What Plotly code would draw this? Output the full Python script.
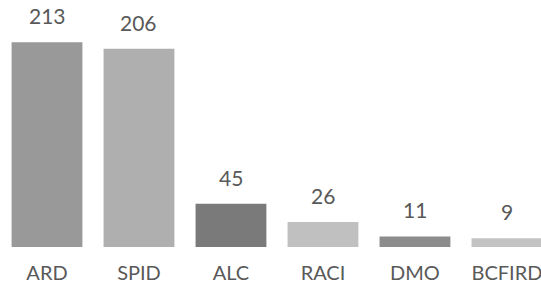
import plotly.graph_objects as go

categories = ["ARD", "SPID", "ALC", "RACI", "DMO", "BCFIRD"]
values = [213, 206, 45, 26, 11, 9]
colors = ["#999999", "#afafaf", "#7a7a7a", "#c0c0c0", "#8c8c8c", "#c3c3c3"]

fig = go.Figure(go.Bar(
    x=categories, y=values, marker=dict(color=colors, line=dict(width=0)),
    width=0.77, hoverinfo="skip",
))

for c, v in zip(categories, values):
    fig.add_annotation(x=c, y=v, text=str(v), showarrow=False, yanchor="bottom",
                       yshift=12, font=dict(family="Lato", size=21, color="#595959"))

fig.update_layout(
    width=541, height=287,
    margin=dict(l=1, r=0, t=0, b=40, autoexpand=False),
    paper_bgcolor="white", plot_bgcolor="white",
    showlegend=False,
    font=dict(family="Lato", size=20, color="#595959"),
)
fig.update_xaxes(range=[-0.5, 5.37], showgrid=False, showline=False, zeroline=False,
                 automargin=False,
                 ticks="outside", ticklen=8, tickcolor="rgba(0,0,0,0)",
                 tickfont=dict(family="Lato", size=20, color="#595959"))
fig.update_yaxes(range=[0, 256.8], visible=False, automargin=False)

fig.write_html("out.html", config={"displayModeBar": False},
               post_script="document.body.style.margin='0';document.body.style.overflow='hidden';")
